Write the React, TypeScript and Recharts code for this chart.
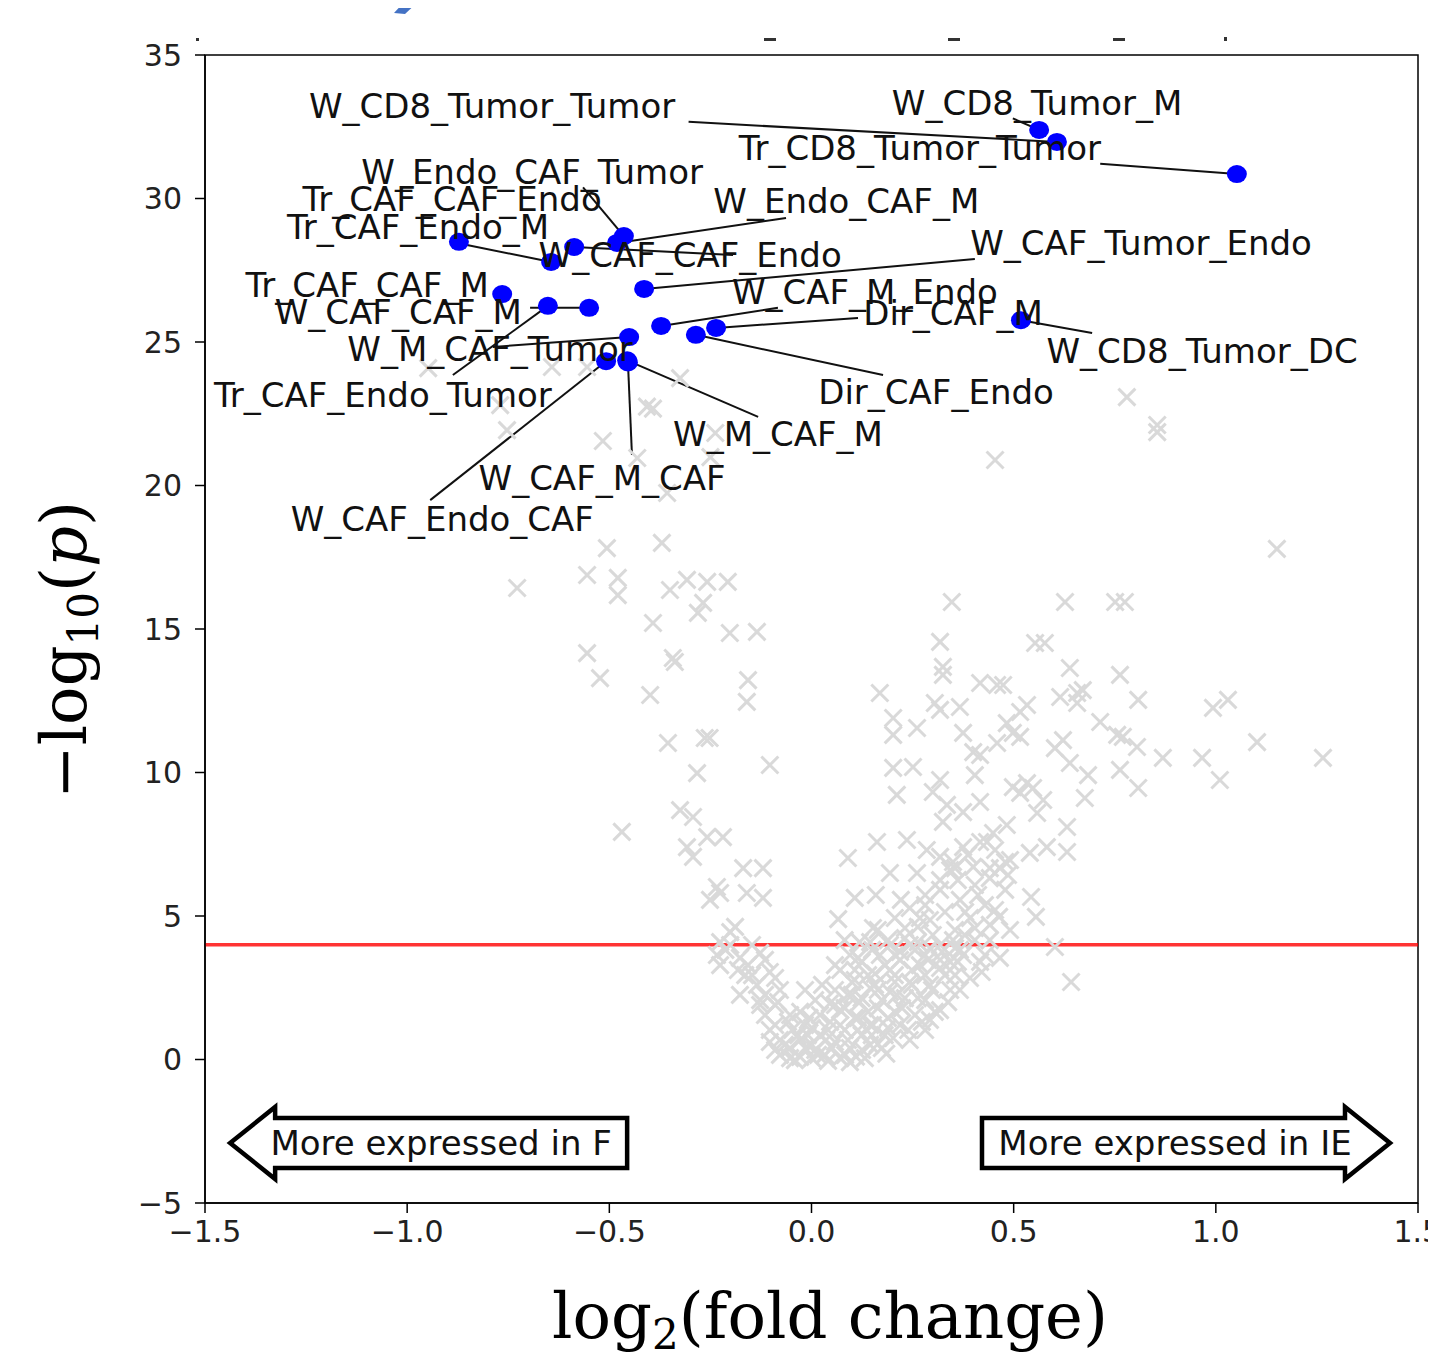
import React from 'react';
import {
  ScatterChart,
  Scatter,
  XAxis,
  YAxis,
  ReferenceLine,
  ReferenceArea,
  ReferenceDot,
} from 'recharts';

// ---------- axis ticks ----------
const xTicks = [-1.5, -1, -0.5, 0, 0.5, 1, 1.5];
const yTicks = [-5, 0, 5, 10, 15, 20, 25, 30, 35];
const pThreshold = 4;

// ---------- background (non significant) points: [log2FC, -log10 p] ----------
const bgUpperLeft: number[][] = [
  [-0.948, 24.09], [-0.642, 24.13], [-0.555, 24.13], [-0.325, 23.74], [-0.77, 22.8],
  [-0.753, 21.93], [-0.516, 21.55], [-0.407, 22.75], [-0.392, 22.68], [-0.431, 20.96],
  [-0.25, 20.99], [-0.238, 21.83], [-0.357, 19.74], [-0.506, 17.82], [-0.37, 18.0],
  [-0.728, 16.43], [-0.555, 16.88], [-0.479, 16.78], [-0.479, 16.18], [-0.35, 16.36],
  [-0.308, 16.71], [-0.258, 16.64], [-0.207, 16.64], [-0.268, 15.91], [-0.281, 15.56],
  [-0.392, 15.21], [-0.202, 14.86], [-0.135, 14.9], [-0.555, 14.16], [-0.343, 13.99],
  [-0.338, 13.85], [-0.523, 13.29], [-0.399, 12.7], [-0.157, 13.22], [-0.16, 12.46],
  [-0.355, 11.03], [-0.264, 11.2], [-0.252, 11.2], [-0.283, 9.98], [-0.103, 10.26],
  [-0.325, 8.69], [-0.293, 8.45], [-0.469, 7.93], [-0.308, 7.4], [-0.293, 7.06],
  [-0.258, 7.75], [-0.219, 7.75], [-0.169, 6.67], [-0.12, 6.67], [-0.234, 6.01],
  [-0.251, 5.56], [-0.226, 5.8], [-0.16, 5.8], [-0.12, 5.63], [-0.189, 4.62],
];

const bgRightArm: number[][] = [
  [0.169, 12.77], [0.202, 11.9], [0.202, 11.31], [0.261, 11.55], [0.202, 10.16],
  [0.251, 10.19], [0.211, 9.22], [0.347, 15.94], [0.627, 15.94], [0.751, 15.94],
  [0.775, 15.94], [0.318, 14.55], [0.553, 14.51], [0.577, 14.51], [0.325, 13.68],
  [0.325, 13.4], [0.639, 13.64], [0.763, 13.4], [0.417, 13.12], [0.459, 13.05],
  [0.474, 13.05], [0.615, 12.63], [0.657, 12.77], [0.671, 12.87], [0.657, 12.42],
  [0.808, 12.53], [0.993, 12.25], [1.03, 12.53], [0.305, 12.42], [0.318, 12.18],
  [0.367, 12.28], [0.533, 12.35], [0.516, 12.11], [0.483, 11.72], [0.498, 11.38],
  [0.516, 11.24], [0.375, 11.38], [0.714, 11.76], [0.756, 11.31], [0.77, 11.24],
  [0.805, 10.89], [0.622, 11.13], [0.602, 10.85], [0.639, 10.33], [0.684, 9.91],
  [0.459, 11.03], [0.4, 10.71], [0.417, 10.61], [0.869, 10.51], [0.966, 10.51],
  [1.102, 11.06], [1.265, 10.51], [1.01, 9.74], [0.318, 9.74], [0.3, 9.32],
  [0.404, 9.91], [0.763, 10.09], [0.808, 9.46], [0.676, 9.11], [0.335, 8.87],
  [0.375, 8.62], [0.417, 8.97], [0.325, 8.28], [0.498, 9.49], [0.533, 9.63],
  [0.516, 9.29], [0.548, 9.46], [0.573, 9.04], [0.558, 8.59], [0.632, 8.1],
  [0.449, 7.89], [0.483, 8.17], [0.434, 7.58], [0.54, 7.2], [0.582, 7.4],
  [0.632, 7.23], [0.09, 7.02], [0.162, 7.58], [0.236, 7.65], [0.285, 7.3],
  [0.318, 7.06], [0.35, 6.88], [0.375, 7.4], [0.194, 6.5], [0.261, 6.5],
  [0.343, 6.6], [0.4, 6.71], [0.466, 6.67], [0.107, 5.63], [0.159, 5.73],
  [0.221, 5.56], [0.543, 5.66], [0.555, 4.97], [0.066, 4.89], [0.152, 4.58],
  [0.602, 3.92], [0.642, 2.7], [0.421, 3.05], [0.263, 4.62], [0.464, 4.97],
  [0.362, 6.25], [0.404, 6.08], [0.441, 6.32], [0.479, 5.91], [0.367, 5.56],
  [0.429, 5.38], [0.33, 5.14], [0.392, 4.93], [0.441, 4.69], [0.355, 4.51],
  [0.404, 4.16], [0.318, 3.99], [0.367, 3.82], [0.429, 3.64], [0.281, 3.64],
  [0.343, 3.4], [0.379, 4.34], [0.491, 6.95], [0.318, 5.91], [0.281, 5.38],
];

const bgUpperRight: number[][] = [
  [0.78, 23.08], [0.855, 22.11], [0.855, 21.86], [0.454, 20.89], [1.151, 17.79],
];

const bgCore: number[][] = [
  [0.145, 4.09], [0.194, 3.99], [0.231, 4.23], [0.256, 3.82], [0.293, 3.88],
  [0.169, 3.64], [0.219, 3.47], [0.124, 3.4], [0.268, 3.29], [0.318, 3.19],
  [0.157, 2.99], [0.206, 2.94], [0.107, 2.77], [0.243, 2.7], [0.293, 2.6],
  [0.145, 2.49], [0.194, 2.35], [0.09, 2.25], [0.231, 2.14], [0.281, 2.07],
  [0.119, 2.0], [0.164, 1.79], [0.071, 1.72], [0.206, 1.66], [0.256, 1.55],
  [0.115, 1.45], [0.046, 1.31], [0.152, 1.2], [0.219, 1.2], [0.082, 1.03],
  [0.124, 0.85], [0.021, 0.85], [0.181, 0.85], [-0.028, 0.68], [0.058, 0.61],
  [0.095, 0.4], [0.009, 0.33], [-0.053, 0.4], [-0.078, 0.68], [-0.103, 1.03],
  [0.033, 0.16], [-0.028, 0.09], [0.071, 0.05], [-0.078, 0.16], [0.145, 0.51],
  [-0.016, 1.2], [-0.053, 1.55], [-0.115, 1.55], [-0.127, 2.07], [-0.09, 1.9],
  [-0.177, 2.25], [-0.135, 2.6], [-0.078, 2.42], [-0.182, 3.12], [-0.226, 3.29],
  [-0.157, 3.29], [-0.103, 3.05], [-0.234, 3.64], [-0.127, 3.71], [-0.201, 3.99],
  [0.058, 3.29], [0.095, 3.64], [0.082, 4.16], [0.491, 4.51], [0.281, 1.03],
  [0.318, 1.72], [0.343, 2.42], [0.355, 2.94], [0.243, 0.68], [0.293, 1.38],
];

const bgCoreDense: number[][] = [
  [-0.041, -0.02], [0.001, 0.05], [0.041, -0.05], [0.083, 0.16], [0.125, 0.33],
  [0.164, 0.54], [0.202, 0.75], [0.239, 1.03], [0.273, 1.31], [0.305, 1.66],
  [0.338, 2.0], [0.367, 2.42], [0.392, 2.84], [-0.066, 0.51], [-0.033, 0.85],
  [0.001, 1.1], [0.036, 0.68], [0.071, 1.2], [0.107, 1.45], [0.145, 1.2],
  [0.189, 1.45], [0.224, 1.79], [0.263, 2.14], [0.298, 2.42], [0.33, 2.94],
  [0.362, 3.4], [0.082, 1.79], [0.124, 2.14], [0.164, 2.42], [0.206, 2.7],
  [0.248, 3.12], [0.288, 3.47], [0.323, 3.75], [0.058, 2.42], [0.1, 2.7],
  [0.14, 2.94], [0.182, 3.29], [0.219, 3.75], [0.263, 4.09], [0.3, 4.34],
  [0.071, 3.12], [0.115, 3.54], [0.15, 3.82], [0.189, 4.16], [0.231, 4.58],
  [0.268, 4.93], [0.119, 4.09], [0.164, 4.51], [0.206, 4.93], [0.243, 5.28],
  [0.281, 5.73], [0.318, 6.25], [0.355, 6.67], [0.387, 7.13], [0.417, 7.58],
  [0.454, 7.3], [0.479, 6.88], [0.441, 6.67], [0.412, 5.73], [0.454, 5.21],
  [0.486, 6.43], [0.38, 5.14], [0.35, 4.16], [0.404, 4.58], [0.441, 4.16],
  [0.375, 3.64], [0.417, 3.4], [0.466, 3.54], [-0.213, 3.82], [-0.177, 3.54],
  [-0.147, 3.99], [-0.115, 3.47], [-0.09, 2.84], [-0.164, 2.94], [-0.115, 2.25],
  [-0.083, 2.0], [-0.058, 1.31], [-0.028, 1.66], [-0.09, 1.2], [0.001, 0.51],
  [-0.103, 0.61], [-0.201, 4.44], [-0.226, 4.09], [0.009, 2.07], [0.026, 2.6],
  [-0.016, 2.42], [0.045, 1.95], [-0.005, 1.45], [0.11, 0.1], [0.185, 0.2],
];

const bgCoreBase: number[][] = [
  [-0.09, 0.33], [-0.053, 0.05], [-0.016, 0.4], [0.016, 0.16], [0.051, 0.4],
  [0.09, 0.68], [0.115, 1.03], [0.149, 0.85], [0.189, 1.1], [0.174, 0.4],
  [0.132, 0.05], [0.095, -0.09], [-0.009, 0.85], [-0.048, 1.03], [0.041, 1.03],
  [0.021, 1.55], [0.058, 1.9], [0.1, 2.25], [0.14, 1.66], [0.174, 2.07],
  [0.211, 2.25], [0.248, 2.6], [0.281, 2.94], [0.318, 3.47], [0.355, 3.88],
  [0.206, 3.64], [0.243, 3.99], [0.293, 4.86], [0.157, 2.6], [0.194, 3.12],
  [0.107, 3.12], [-0.127, 1.9], [-0.147, 2.94],
];

// ---------- significant (highlighted) points ----------
const sigNames = [
  'W_CD8_Tumor_Tumor', 'W_CD8_Tumor_M', 'Tr_CD8_Tumor_Tumor', 'W_Endo_CAF_Tumor',
  'Tr_CAF_CAF_Endo', 'Tr_CAF_Endo_M', 'W_Endo_CAF_M', 'W_CAF_CAF_Endo',
  'W_CAF_Tumor_Endo', 'Tr_CAF_CAF_M', 'W_CAF_CAF_M', 'W_CAF_M_Endo',
  'Dir_CAF_M', 'W_CD8_Tumor_DC', 'W_M_CAF_Tumor', 'Tr_CAF_Endo_Tumor',
  'Dir_CAF_Endo', 'W_M_CAF_M', 'W_CAF_M_CAF', 'W_CAF_Endo_CAF',
];
const sigLog2FC = [
  0.607, 0.563, 1.052, -0.464, -0.872, -0.644, -0.481, -0.587, -0.414, -0.765,
  -0.55, -0.372, -0.236, 0.518, -0.451, -0.652, -0.286, -0.456, -0.454, -0.508,
];
const sigNegLog10P = [
  31.97, 32.39, 30.85, 28.69, 28.49, 27.79, 28.45, 28.31, 26.85, 26.67,
  26.19, 25.56, 25.49, 25.76, 25.17, 26.26, 25.25, 24.36, 24.29, 24.33,
];

// label text centres (data units, as placed by the text-repel layout)
const labelLog2FC = [
  -0.79, 0.558, 0.268, -0.691, -0.889, -0.973, 0.086, -0.3, 0.815, -1.099,
  -1.022, 0.132, 0.35, 0.966, -0.795, -1.06, 0.308, -0.083, -0.518, -0.913,
];
const labelNegLog10P = [
  33.22, 33.33, 31.76, 30.92, 29.98, 29.0, 29.91, 28.03, 28.45, 26.99,
  26.05, 26.74, 26.01, 24.69, 24.76, 23.15, 23.26, 21.79, 20.26, 18.83,
];
// leader line start (data units); null = no leader line
const leaderLog2FC: (number | null)[] = [
  -0.304, 0.498, 0.714, -0.565, null, -0.852, -0.063, -0.194, 0.404, null,
  -0.696, -0.083, 0.115, 0.694, -0.788, -0.887, 0.177, -0.132, -0.444, -0.943,
];
const leaderNegLog10P: (number | null)[] = [
  32.67, 32.79, 31.21, 30.39, null, 28.38, 29.32, 28.03, 27.89, null,
  26.19, 26.19, 25.84, 25.31, 24.83, 23.85, 23.85, 22.39, 21.06, 19.49,
];

const directionNotes = ['More expressed in F', 'More expressed in IE'];
const directionLog2FC = [-0.916, 0.899];
const directionNegLog10P = [-2.91, -2.91];

// ---------- derived tables ----------
const bgData = [
  ...bgUpperLeft,
  ...bgRightArm,
  ...bgUpperRight,
  ...bgCore,
  ...bgCoreDense,
  ...bgCoreBase,
].map(([x, y]) => ({ x, y }));
const sigData = sigNames.map((name, i) => ({ name, x: sigLog2FC[i], y: sigNegLog10P[i] }));
const labelData = sigNames.map((name, i) => ({ name, x: labelLog2FC[i], y: labelNegLog10P[i] }));

const MINUS = '\u2212';
const fmtX = (v: number) => (v < 0 ? MINUS + Math.abs(v).toFixed(1) : v.toFixed(1));
const fmtY = (v: number) => (v < 0 ? MINUS + Math.abs(v) : String(v));

const SANS = 'DejaVu Sans, sans-serif';
const SERIF = 'DejaVu Serif, serif';

const GrayCross = (p: any) => {
  const { cx, cy } = p;
  const s = 8.5;
  return (
    <path
      d={`M${cx - s},${cy - s}L${cx + s},${cy + s}M${cx - s},${cy + s}L${cx + s},${cy - s}`}
      stroke="#d9d9d9"
      strokeWidth={3}
      fill="none"
    />
  );
};

const BlueDot = (p: any) => <ellipse cx={p.cx} cy={p.cy} rx={10} ry={9} fill="#0000ff" />;

const LabelText = (p: any) => (
  <text
    x={p.cx}
    y={p.cy}
    dy="0.36em"
    textAnchor="middle"
    fontFamily={SANS}
    fontSize={34}
    fill="#111"
  >
    {p.payload.name}
  </text>
);

const makeArrow = (text: string, dir: 'left' | 'right') => (p: any) => {
  const { cx, cy } = p;
  const pts =
    dir === 'left'
      ? [[-211, 0], [-166, -36], [-166, -25], [186, -25], [186, 25], [-166, 25], [-166, 36]]
      : [[-193, -25], [170, -25], [170, -36], [215, 0], [170, 36], [170, 25], [-193, 25]];
  return (
    <g>
      <polygon
        points={pts.map(([dx, dy]) => `${cx + dx},${cy + dy}`).join(' ')}
        fill="#fff"
        stroke="#000"
        strokeWidth={4.5}
        strokeLinejoin="miter"
      />
      <text x={cx} y={cy} dy="0.36em" textAnchor="middle" fontFamily={SANS} fontSize={34} fill="#111">
        {text}
      </text>
    </g>
  );
};

export default function App() {
  return (
    <div style={{ position: 'relative', width: 1428, height: 1349 }}>
      <ScatterChart
        width={1428}
        height={1349}
        margin={{ top: 47, right: 18, bottom: 94, left: 117 }}
      >
        <XAxis
          type="number"
          dataKey="x"
          domain={[-1.5, 1.5]}
          ticks={xTicks}
          tickFormatter={fmtX}
          allowDataOverflow
          height={60}
          tickSize={10}
          tickMargin={8}
          axisLine={{ stroke: '#000', strokeWidth: 1.5 }}
          tickLine={{ stroke: '#000', strokeWidth: 1.5 }}
          tick={{ fontFamily: SANS, fontSize: 30, fill: '#222' }}
        />
        <YAxis
          type="number"
          dataKey="y"
          domain={[-5, 35]}
          ticks={yTicks}
          tickFormatter={fmtY}
          allowDataOverflow
          width={80}
          tickSize={10}
          tickMargin={13}
          axisLine={{ stroke: '#000', strokeWidth: 1.5 }}
          tickLine={{ stroke: '#000', strokeWidth: 1.5 }}
          tick={{ fontFamily: SANS, fontSize: 30, fill: '#222' }}
        />
        <ReferenceArea x1={-1.5} x2={1.5} y1={-5} y2={35} fill="none" stroke="#000" strokeWidth={1.5} />
        <Scatter data={bgData} shape={GrayCross} isAnimationActive={false} />
        <ReferenceLine y={pThreshold} stroke="#ff0000" strokeOpacity={0.8} strokeWidth={3.5} />
        {sigNames.map((n, i) =>
          leaderLog2FC[i] === null ? null : (
            <ReferenceLine
              key={'ld' + n}
              segment={[
                { x: leaderLog2FC[i] as number, y: leaderNegLog10P[i] as number },
                { x: sigLog2FC[i], y: sigNegLog10P[i] },
              ]}
              stroke="#111"
              strokeWidth={2}
            />
          )
        )}
        <Scatter data={sigData} shape={BlueDot} isAnimationActive={false} />
        <Scatter data={labelData} shape={LabelText} isAnimationActive={false} />
        {directionNotes.map((t, i) => (
          <ReferenceDot
            key={t}
            x={directionLog2FC[i]}
            y={directionNegLog10P[i]}
            r={1}
            shape={makeArrow(t, i === 0 ? 'left' : 'right')}
          />
        ))}
      </ScatterChart>
      <svg
        width={1436}
        height={1357}
        style={{ position: 'absolute', left: -8, top: -8, pointerEvents: 'none' }}
      >
        {/* fragments of cropped content above the figure */}
        <polygon points="406,0 420,0 405,14 394,13" fill="#4472c4" />
        <rect x={196} y={38} width={3} height={3} fill="#333" />
        <rect x={764} y={38} width={12} height={3} fill="#333" />
        <rect x={948} y={38} width={12} height={3} fill="#333" />
        <rect x={1113} y={38} width={12} height={3} fill="#333" />
        <rect x={1224} y={37} width={3} height={4} fill="#333" />
        {/* axis titles */}
        <text x={830} y={1338} textAnchor="middle" fontFamily={SERIF} fontSize={64} fill="#000">
          log
          <tspan dy={11} fontSize={42}>2</tspan>
          <tspan dy={-11}>(fold change)</tspan>
        </text>
        <text
          transform="translate(86,650) rotate(-90)"
          textAnchor="middle"
          fontFamily={SERIF}
          fontSize={64}
          fill="#000"
        >
          {MINUS}log
          <tspan dy={12} fontSize={42}>10</tspan>
          <tspan dy={-12}>(</tspan>
          <tspan fontStyle="italic">p</tspan>
          <tspan>)</tspan>
        </text>
      </svg>
    </div>
  );
}
